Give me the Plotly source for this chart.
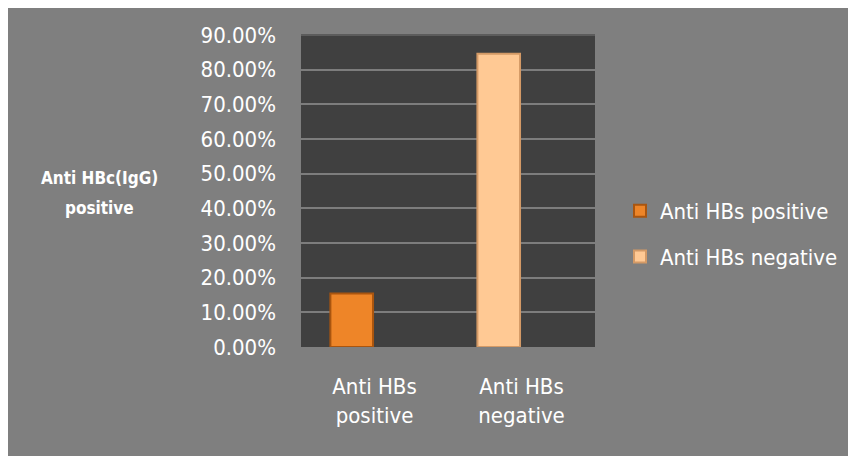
import plotly.graph_objects as go

categories = ["Anti HBs<br>positive", "Anti HBs<br>negative"]
series_names = ["Anti HBs positive", "Anti HBs negative"]
values_pct = [15.4, 84.6]
tick_vals = [0, 10, 20, 30, 40, 50, 60, 70, 80, 90]
tick_text = ["0.00%", "10.00%", "20.00%", "30.00%", "40.00%", "50.00%",
             "60.00%", "70.00%", "80.00%", "90.00%"]
y_title_lines = ["Anti HBc(IgG)", "positive"]

fills = ["#EE8528", "#FFC994"]
edges = ["#A9550F", "#D49A66"]

FONT = "DejaVu Sans Condensed, Liberation Sans, Arial, sans-serif"

fig = go.Figure()
for i, name in enumerate(series_names):
    fig.add_trace(go.Bar(
        x=[categories[i]], y=[values_pct[i]], name=name,
        width=0.29, offset=-0.3,
        marker=dict(color=fills[i], line=dict(color=edges[i], width=2)),
        legendgroup=name,
    ))

OFF = 8  # page body margin
W, H = 860, 460
L, R, T, B = 301 - OFF, 595 - OFF, 35 - OFF, 347 - OFF
pw, ph = R - L, B - T

def px2x(px):
    return (px - OFF - L) / pw

def py2y(py):
    return (B - (py - OFF)) / ph

shapes = [
    dict(type="line", xref="paper", yref="paper", x0=0, x1=1, y0=1, y1=1,
         line=dict(color="#5c5c5c", width=2), layer="below"),
]

annotations = []
for text, py in zip(y_title_lines, [178, 208]):
    annotations.append(dict(
        text="<b>" + text + "</b>", xref="paper", yref="paper",
        x=px2x(99), y=py2y(py), xanchor="center", yanchor="middle",
        showarrow=False, font=dict(family=FONT, size=17, color="white")))

fig.update_layout(
    width=W, height=H,
    margin=dict(l=L, r=W - R, t=T, b=H - B, pad=0),
    paper_bgcolor="#7f7f7f",
    plot_bgcolor="#404040",
    barmode="overlay",
    font=dict(family=FONT, color="white", size=22),
    showlegend=True,
    legend=dict(
        x=px2x(620), y=py2y(190), xanchor="left", yanchor="top",
        font=dict(family=FONT, size=22, color="white"),
        bgcolor="rgba(0,0,0,0)", tracegroupgap=14,
        itemsizing="constant",
    ),
    xaxis=dict(
        showgrid=False, showline=False, zeroline=False,
        ticks="", tickfont=dict(family=FONT, size=22, color="white"),
        range=[-0.5, 1.5], ticklabelstandoff=24,
    ),
    yaxis=dict(
        range=[0, 90], tickvals=tick_vals, ticktext=tick_text,
        showgrid=True, gridcolor="#7d7d7d", gridwidth=2,
        zeroline=False, showline=False, ticks="",
        tickfont=dict(family=FONT, size=22, color="white"),
        ticklabelstandoff=24,
    ),
    shapes=shapes,
    annotations=annotations,
)

page_css = (
    "var de=document.documentElement, bd=document.body;"
    "de.style.overflow='hidden'; bd.style.overflow='hidden';"
    "de.style.background='#7f7f7f';"
    "bd.style.background='white'; bd.style.margin='0';"
    "bd.style.padding='8px 0 0 8px';"
)
fig.write_html("out.html", post_script=page_css)
